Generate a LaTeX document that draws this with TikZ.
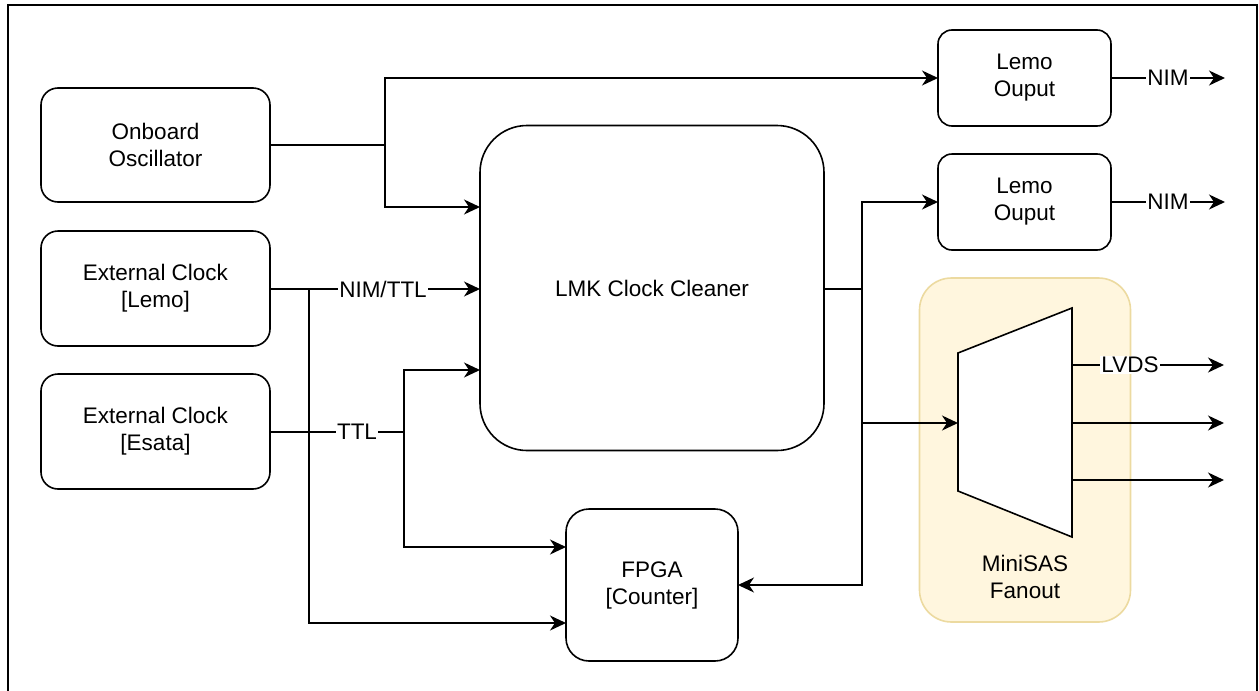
\documentclass[tikz,border=0pt]{standalone}
\usepackage{fontspec}
\setmainfont{Liberation Sans}
\usetikzlibrary{arrows.meta}
\definecolor{sasfill}{RGB}{255,246,222}
\definecolor{sasdraw}{RGB}{236,218,160}
\begin{document}
\begin{tikzpicture}[x=1pt,y=-1pt,
  txt/.style={font=\fontsize{22.5}{27}\selectfont},
  blk/.style={txt,draw,line width=1.6pt,align=center,inner sep=0pt,outer sep=0pt},
  wire/.style={line width=1.6pt},
  arr/.style={wire,-{Stealth[length=16pt,width=15pt,inset=5pt]}},
  lab/.style={txt,fill=white,inner sep=1pt}]
\useasboundingbox (0,0) rectangle (1259,691);
% frame
\draw[line width=1.6pt] (8,5) rectangle (1257,720);
% MiniSAS fanout container
\node[draw=sasdraw,fill=sasfill,line width=1.6pt,rounded corners=32pt,minimum width=211pt,minimum height=344pt,inner sep=0pt,outer sep=0pt] (sas) at (1025,450) {};
\node[txt,align=center] (sastxt) at (1025,577) {MiniSAS\\Fanout};
% blocks
\node[blk,rounded corners=17pt,minimum width=229pt,minimum height=114pt] (osc) at (155.5,145) {Onboard\\Oscillator};
\node[blk,rounded corners=17pt,minimum width=229pt,minimum height=115pt] (ext1) at (155.5,288.5) {External Clock\\{[}Lemo{]}};
\node[blk,rounded corners=17pt,minimum width=229pt,minimum height=115pt] (ext2) at (155.5,431.5) {External Clock\\{[}Esata{]}};
\node[blk,rounded corners=47pt,minimum width=344pt,minimum height=325pt] (lmk) at (652,288) {LMK Clock Cleaner};
\node[blk,rounded corners=14pt,minimum width=173pt,minimum height=96pt] (lemo1) at (1024.5,78) {Lemo\\Ouput};
\node[blk,rounded corners=14pt,minimum width=173pt,minimum height=96pt] (lemo2) at (1024.5,202) {Lemo\\Ouput};
\node[blk,rounded corners=23pt,minimum width=172pt,minimum height=152pt] (fpga) at (652,585) {FPGA\\{[}Counter{]}};
% mux trapezoid
\coordinate (mlt) at (958,353);
\coordinate (mlb) at (958,491);
\coordinate (mrt) at (1072,308);
\coordinate (mrb) at (1072,537);
\draw[wire,fill=white,line join=miter] (mlt) -- (mrt) -- (mrb) -- (mlb) -- cycle;
\coordinate (muxin) at (958,423);
\coordinate (mo1) at (1072,365);
\coordinate (mo2) at (1072,423);
\coordinate (mo3) at (1072,480);
\coordinate (e1) at (1224,365);
\coordinate (e2) at (1224,423);
\coordinate (e3) at (1224,480);
\coordinate (n1) at (1225,78);
\coordinate (n2) at (1225,202);
% junctions
\coordinate (j1) at (385,145);
\coordinate (j2) at (309,289);
\coordinate (j3) at (404,432);
\coordinate (j4) at (862,289);
\coordinate (j5) at (862,423);
% connectors
\draw[wire] (osc.east) -- (j1);
\draw[arr] (j1) |- (lemo1.west);
\draw[arr] (j1) |- (lmk.west |- 0,207);
\draw[arr] (ext1.east |- j2) -- (lmk.west |- j2);
\draw[arr] (j2) |- (fpga.west |- 0,623);
\draw[wire] (ext2.east |- j3) -- (j3);
\draw[arr] (j3) |- (lmk.west |- 0,370);
\draw[arr] (j3) |- (fpga.west |- 0,547);
\draw[wire] (lmk.east |- j4) -- (j4);
\draw[arr] (j4) |- (lemo2.west);
\draw[arr] (j4) |- (fpga.east);
\draw[arr] (j5) -- (muxin);
\draw[arr] (lemo1.east) -- (n1);
\draw[arr] (lemo2.east) -- (n2);
\draw[arr] (mo1) -- (e1);
\draw[arr] (mo2) -- (e2);
\draw[arr] (mo3) -- (e3);
% labels
\node[lab] (l1) at (383,289) {NIM/TTL};
\node[lab] (l2) at (357,432) {TTL};
\node[lab] (l3) at (1168,78) {NIM};
\node[lab] (l4) at (1168,202) {NIM};
\node[lab] (l5) at (1130,365) {LVDS};
\end{tikzpicture}
\end{document}
